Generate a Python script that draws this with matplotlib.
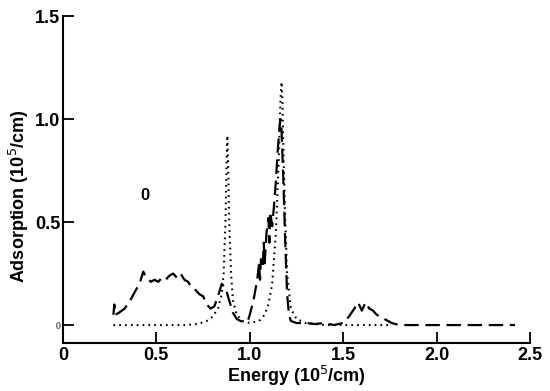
import numpy as np
import matplotlib.pyplot as plt

# dashed curve (calculated spectrum)
dash_x = [0.27, 0.275, 0.28, 0.30, 0.33, 0.36, 0.39, 0.41, 0.43, 0.44, 0.45, 0.47, 0.49,
          0.51, 0.53, 0.55, 0.57, 0.59, 0.61, 0.63, 0.65, 0.67, 0.69, 0.71, 0.73, 0.75,
          0.77, 0.79, 0.81, 0.83, 0.85, 0.86, 0.87, 0.89, 0.91, 0.93, 0.95, 0.97, 0.99,
          1.00, 1.02, 1.04, 1.05, 1.055, 1.06, 1.07, 1.075, 1.08, 1.09, 1.10, 1.105, 1.11,
          1.12, 1.13, 1.14, 1.15, 1.16, 1.165, 1.17, 1.18, 1.19, 1.20, 1.21, 1.22, 1.25,
          1.30, 1.35, 1.40, 1.45, 1.50, 1.53, 1.56, 1.58, 1.60, 1.62, 1.64, 1.66, 1.68,
          1.72, 1.76, 1.80, 2.0, 2.2, 2.42]
dash_y = [0.05, 0.10, 0.05, 0.06, 0.08, 0.12, 0.17, 0.20, 0.26, 0.24, 0.23, 0.21, 0.22,
          0.21, 0.23, 0.22, 0.24, 0.25, 0.23, 0.25, 0.22, 0.21, 0.18, 0.17, 0.15, 0.14,
          0.10, 0.08, 0.09, 0.14, 0.20, 0.19, 0.18, 0.12, 0.06, 0.03, 0.02, 0.015, 0.02,
          0.05, 0.12, 0.22, 0.30, 0.22, 0.32, 0.28, 0.40, 0.30, 0.45, 0.52, 0.40, 0.55,
          0.48, 0.58, 0.70, 0.85, 0.97, 1.00, 0.95, 0.70, 0.40, 0.15, 0.05, 0.02, 0.01,
          0.01, 0.005, 0.01, 0.0, 0.01, 0.04, 0.08, 0.11, 0.07, 0.11, 0.08, 0.07, 0.05,
          0.03, 0.01, 0.0, 0.0, 0.0, 0.0]

# dotted curve
dot_x = [0.27, 0.40, 0.55, 0.65, 0.72, 0.77, 0.80, 0.83, 0.85, 0.86, 0.87, 0.875, 0.88,
         0.885, 0.89, 0.90, 0.91, 0.93, 0.96, 1.00, 1.05, 1.08, 1.10, 1.12, 1.14, 1.155,
         1.165, 1.17, 1.175, 1.18, 1.19, 1.20, 1.22, 1.25, 1.30, 1.40, 1.60, 1.75]
dot_y = [0.0, 0.0, 0.0, 0.0, 0.005, 0.02, 0.04, 0.08, 0.15, 0.25, 0.5, 0.75, 0.92,
         0.75, 0.5, 0.25, 0.12, 0.05, 0.02, 0.01, 0.02, 0.05, 0.10, 0.20, 0.45, 0.80,
         1.10, 1.18, 1.10, 0.85, 0.50, 0.25, 0.08, 0.03, 0.01, 0.0, 0.0, 0.0]

plt.rcParams['font.family'] = ['Liberation Sans', 'DejaVu Sans']

fig = plt.figure(figsize=(5.5, 3.91), dpi=100)
ax = fig.add_axes([0.1145, 0.1228, 0.849, 0.836])

ax.plot(dash_x, dash_y, color='black', lw=1.6, dashes=(6.5, 3))
ax.plot(dot_x, dot_y, color='black', lw=1.5, linestyle=(0, (0.8, 2.0)))

ax.text(0.44, 0.63, '0', fontsize=12, fontweight='bold', ha='center', va='center')

ax.set_xlim(0, 2.5)
ax.set_ylim(-0.087, 1.5)
ax.set_xticks([0, 0.5, 1.0, 1.5, 2.0, 2.5])
ax.set_xticklabels(['0', '0.5', '1.0', '1.5', '2.0', '2.5'], fontweight='bold', fontsize=13)
ax.set_yticks([0, 0.5, 1.0, 1.5])
ax.set_yticklabels(['0', '0.5', '1.0', '1.5'], fontweight='bold', fontsize=13)
ax.get_yticklabels()[0].set_fontfamily('Liberation Serif')
ax.get_yticklabels()[0].set_fontweight('normal')
ax.get_yticklabels()[0].set_fontsize(7)
ax.xaxis.get_major_ticks()[0].tick1line.set_visible(False)

ax.tick_params(direction='in', length=8, width=1.3, pad=3)
ax.tick_params(axis='y', pad=2)
ax.spines['top'].set_visible(False)
ax.spines['right'].set_visible(False)
ax.spines['left'].set_linewidth(1.5)
ax.spines['bottom'].set_linewidth(1.5)

ax.set_xlabel('Energy (10$^5$/cm)', fontsize=13, fontweight='bold', labelpad=0)
ax.set_ylabel('Adsorption (10$^5$/cm)', fontsize=13, fontweight='bold')
ax.yaxis.set_label_coords(-0.068, 0.45)

fig.savefig('out.png', dpi=100)
